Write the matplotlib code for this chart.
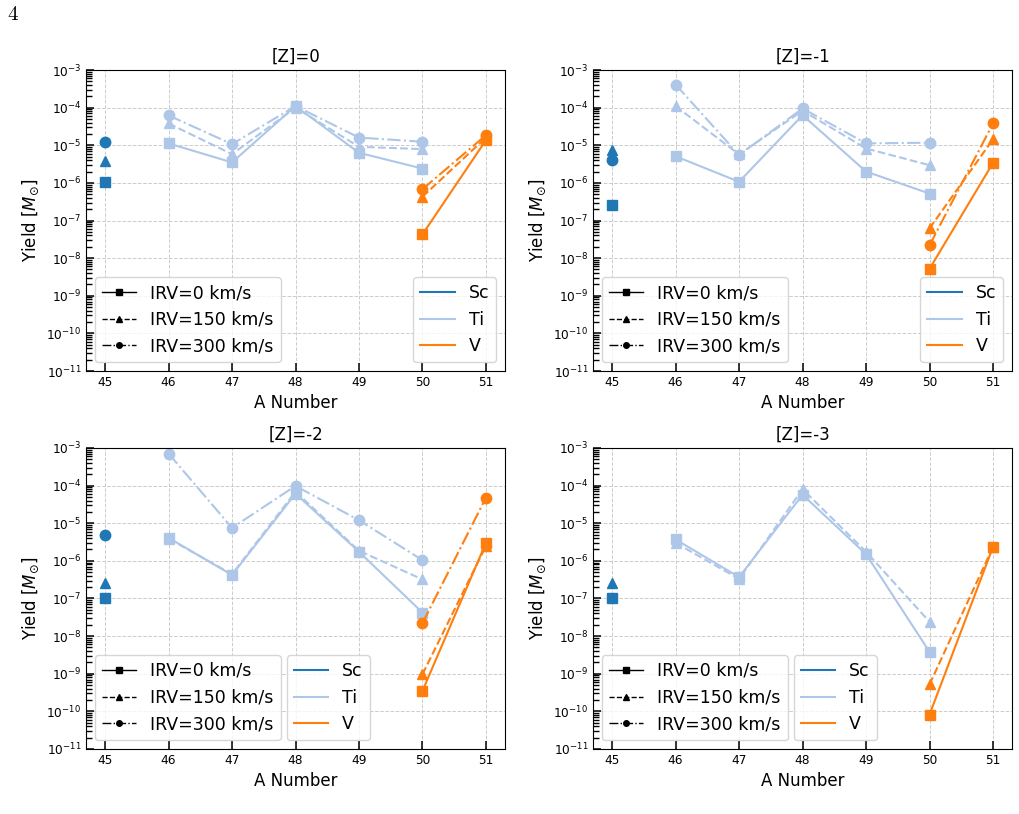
import numpy as np
import matplotlib
matplotlib.use('Agg')
from matplotlib import pyplot as plt
from matplotlib.lines import Line2D
from matplotlib.ticker import FixedLocator, NullFormatter

# mass numbers per element
a_sc = [45]
a_ti = [46, 47, 48, 49, 50]
a_v = [50, 51]

titles = ['[Z]=0', '[Z]=-1', '[Z]=-2', '[Z]=-3']
irv_labels = ['IRV=0 km/s', 'IRV=150 km/s', 'IRV=300 km/s']

# yields, rows are IRV = 0, 150, 300 km/s (None = no model)
sc_z0 = [[1.07e-6], [3.8e-6], [1.24e-5]]
ti_z0 = [[1.12e-5, 3.5e-6, 1.1e-4, 6.3e-6, 2.4e-6],
         [3.8e-5, 5.8e-6, 1.0e-4, 9.1e-6, 7.9e-6],
         [6.2e-5, 1.07e-5, 1.1e-4, 1.6e-5, 1.24e-5]]
v_z0 = [[4.3e-8, 1.37e-5], [4.3e-7, 1.6e-5], [6.8e-7, 1.86e-5]]

sc_z1 = [[2.6e-7], [7.4e-6], [4.0e-6]]
ti_z1 = [[5.1e-6, 1.07e-6, 6.3e-5, 2.0e-6, 5.2e-7],
         [1.1e-4, 5.7e-6, 8.3e-5, 8.2e-6, 2.95e-6],
         [4.1e-4, 5.5e-6, 9.5e-5, 1.12e-5, 1.17e-5]]
v_z1 = [[5.2e-9, 3.4e-6], [6.2e-8, 1.44e-5], [2.2e-8, 3.8e-5]]

sc_z2 = [[1.03e-7], [2.6e-7], [5.0e-6]]
ti_z2 = [[4.1e-6, 4.2e-7, 6.1e-5, 1.74e-6, 4.2e-8],
         [3.9e-6, 4.4e-7, 6.9e-5, 1.85e-6, 3.2e-7],
         [7.1e-4, 7.5e-6, 9.8e-5, 1.2e-5, 1.04e-6]]
v_z2 = [[3.5e-10, 3.0e-6], [9.7e-10, 2.5e-6], [2.2e-8, 4.8e-5]]

sc_z3 = [[1.03e-7], [2.6e-7], None]
ti_z3 = [[3.7e-6, 3.7e-7, 5.7e-5, 1.5e-6, 3.8e-9],
         [3.0e-6, 3.3e-7, 8.0e-5, 1.74e-6, 2.4e-8],
         None]
v_z3 = [[8.2e-11, 2.35e-6], [5.2e-10, 2.35e-6], None]

sc_all = [sc_z0, sc_z1, sc_z2, sc_z3]
ti_all = [ti_z0, ti_z1, ti_z2, ti_z3]
v_all = [v_z0, v_z1, v_z2, v_z3]

colors = {'Sc': '#1f77b4', 'Ti': '#aec7e8', 'V': '#ff7f0e'}
styles = ['-', '--', '-.']
markers = ['s', '^', 'o']

decades = 10.0 ** np.arange(-11, -2)
minor_locs = np.outer(decades[:-1], np.arange(2, 10)).ravel()

fig = plt.figure(figsize=(10.19, 8.14), dpi=100)
positions = [[0.0844, 0.5442, 0.4112, 0.3698],
             [0.582, 0.5442, 0.4112, 0.3698],
             [0.0844, 0.0799, 0.4112, 0.3698],
             [0.582, 0.0799, 0.4112, 0.3698]]

for k in range(4):
    ax = fig.add_axes(positions[k])
    for name, xs, data in [('Sc', a_sc, sc_all[k]), ('Ti', a_ti, ti_all[k]), ('V', a_v, v_all[k])]:
        for j in range(3):
            if data[j] is None:
                continue
            ax.plot(xs, data[j], color=colors[name], ls=styles[j], marker=markers[j],
                    markersize=7.5, lw=1.5)
    ax.set_yscale('log')
    ax.set_ylim(1e-11, 1e-3)
    ax.set_xticks(range(45, 52))
    ax.set_yticks(decades)
    ax.yaxis.set_minor_locator(FixedLocator(minor_locs))
    ax.yaxis.set_minor_formatter(NullFormatter())
    ax.set_ylim(1e-11, 1e-3)
    ax.tick_params(which='major', direction='in', length=6, width=1.1, labelsize=8.7)
    ax.tick_params(which='minor', direction='in', length=4.5, width=1.0)
    ax.grid(True, which='major', ls='--', color='#cccccc', lw=0.7)
    ax.set_title(titles[k], fontsize=12)
    ax.set_xlabel('A Number', fontsize=12)
    ax.set_ylabel(r'Yield [$M_{\odot}$]', fontsize=12)

    h1 = [Line2D([], [], color='k', ls=styles[j], marker=markers[j], markersize=4, lw=1)
          for j in range(3)]
    leg1 = ax.legend(h1, irv_labels, loc='lower left', fontsize=12.5)
    ax.add_artist(leg1)
    h2 = [Line2D([], [], color=colors[n], lw=1.5) for n in ['Sc', 'Ti', 'V']]
    if k < 2:
        ax.legend(h2, ['Sc', 'Ti', 'V'], loc='lower right', fontsize=12.5)
    else:
        ax.legend(h2, ['Sc', 'Ti', 'V'], loc='lower left', bbox_to_anchor=(0.458, 0),
                  fontsize=12.5)

fig.text(0.007, 0.975, r'$4$', fontsize=15, math_fontfamily='cm')

plt.savefig('out.png', dpi=100)
